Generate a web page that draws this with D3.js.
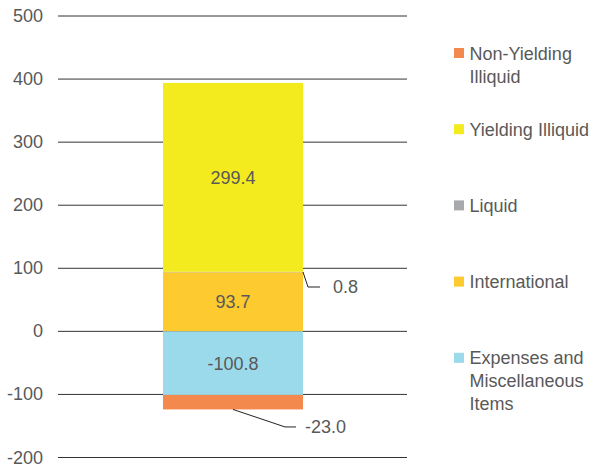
<html>
<head>
<style>
    body { margin: 0; background: #fff; }
    text { font-family: "Liberation Sans", Arial, sans-serif; }
</style>
</head>
<body>
    <svg id="container" width="596" height="470"></svg>
</body>
<script src="https://cdn.jsdelivr.net/npm/d3@7"></script>
<script>
    // series in stacking order
    let seriesNames = ["International", "Liquid", "Yielding Illiquid", "Expenses and Miscellaneous Items", "Non-Yielding Illiquid"]
    let seriesValues = [93.7, 0.8, 299.4, -100.8, -23.0]
    let seriesColors = ["#FDCA2F", "#A7A9AC", "#F4EB1F", "#9BDAEA", "#F4894E"]
    let yTicks = [500, 400, 300, 200, 100, 0, -100, -200]
    // legend order as shown (top to bottom)
    let legendItems = [
        ["Non-Yielding", "Illiquid"],
        ["Yielding Illiquid"],
        ["Liquid"],
        ["International"],
        ["Expenses and", "Miscellaneous", "Items"]
    ]
    let legendColors = ["#F4894E", "#F4EB1F", "#A7A9AC", "#FDCA2F", "#9BDAEA"]

    let container = d3.select("#container")
    let textColor = "#595959"
    let fs = 18

    let y = d3.scaleLinear()
        .domain([-200, 500])
        .range([457.5, 16])

    // gridlines
    container.selectAll("line.grid")
        .data(yTicks)
        .enter()
        .append("line")
        .attr("x1", 58)
        .attr("x2", 407)
        .attr("y1", d => y(d))
        .attr("y2", d => y(d))
        .attr("stroke", "#333")
        .attr("stroke-width", 1)

    container.selectAll("text.tick")
        .data(yTicks)
        .enter()
        .append("text")
        .attr("x", 43)
        .attr("y", d => y(d) + 6)
        .attr("text-anchor", "end")
        .attr("font-size", fs)
        .attr("fill", textColor)
        .text(d => d)

    // stack positives up and negatives down
    let pos = 0, neg = 0
    let stacked = seriesValues.map((v, i) => {
        let y0, y1
        if (v >= 0) { y0 = pos; y1 = pos + v; pos = y1 }
        else { y0 = neg; y1 = neg + v; neg = y1 }
        return { name: seriesNames[i], value: v, y0: y0, y1: y1, color: seriesColors[i] }
    })

    let bx = 163, bw = 140

    container.selectAll("rect.bar")
        .data(stacked)
        .enter()
        .append("rect")
        .attr("x", bx)
        .attr("width", bw)
        .attr("y", d => y(Math.max(d.y0, d.y1)))
        .attr("height", d => Math.abs(y(d.y0) - y(d.y1)))
        .attr("fill", d => d.color)

    // labels inside the big segments
    container.selectAll("text.val")
        .data(stacked.filter(d => Math.abs(d.value) > 50))
        .enter()
        .append("text")
        .attr("x", bx + bw / 2)
        .attr("y", d => y((d.y0 + d.y1) / 2) + 6.5)
        .attr("text-anchor", "middle")
        .attr("font-size", fs)
        .attr("fill", textColor)
        .text(d => d.value.toFixed(1))

    // leader labels for small segments
    let liquid = stacked[1]
    let ly = y((liquid.y0 + liquid.y1) / 2)
    container.append("polyline")
        .attr("points", [[bx + bw, ly], [bx + bw + 5, ly + 15], [bx + bw + 17, ly + 15]].join(" "))
        .attr("fill", "none")
        .attr("stroke", "#222")
        .attr("stroke-width", 1)
    container.append("text")
        .attr("x", bx + bw + 30)
        .attr("y", ly + 21)
        .attr("font-size", fs)
        .attr("fill", textColor)
        .text(liquid.value.toFixed(1))

    let nyi = stacked[4]
    let ny = y(nyi.y1)
    container.append("polyline")
        .attr("points", [[bx + bw / 2, ny], [bx + bw / 2 + 52, ny + 17.5], [bx + bw / 2 + 63, ny + 17.5]].join(" "))
        .attr("fill", "none")
        .attr("stroke", "#222")
        .attr("stroke-width", 1)
    container.append("text")
        .attr("x", bx + bw / 2 + 72)
        .attr("y", ny + 24)
        .attr("font-size", fs)
        .attr("fill", textColor)
        .text(nyi.value.toFixed(1))

    // legend
    let legend = container.selectAll("g.legend")
        .data(legendItems)
        .enter()
        .append("g")
        .attr("transform", (d, i) => `translate(454, ${53 + i * 76.2})`)

    legend.append("rect")
        .attr("x", 0)
        .attr("y", -5)
        .attr("width", 10)
        .attr("height", 10)
        .attr("fill", (d, i) => legendColors[i])

    legend.each(function (lines) {
        d3.select(this).selectAll("text")
            .data(lines)
            .enter()
            .append("text")
            .attr("x", 15.5)
            .attr("y", (d, j) => 6.5 + j * 23)
            .attr("font-size", fs)
            .attr("fill", textColor)
            .text(d => d)
    })
</script>
</html>
